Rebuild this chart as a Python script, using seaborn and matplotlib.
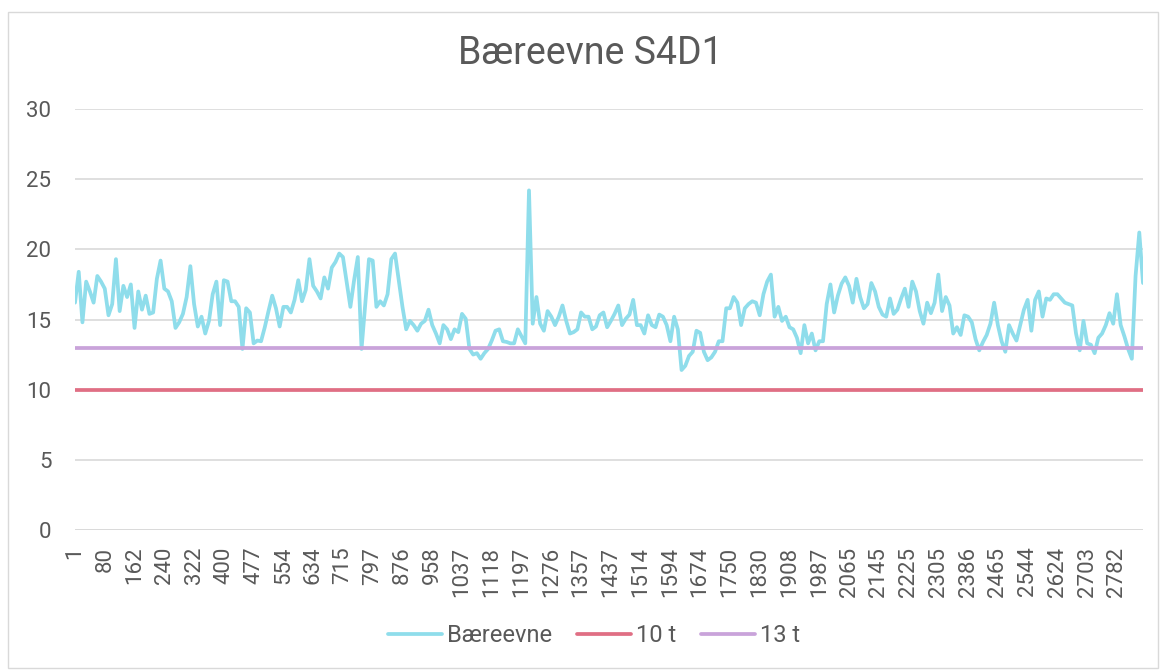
import numpy as np
import pandas as pd
import matplotlib.pyplot as plt
import matplotlib.patches as mpatches
import seaborn as sns

# category labels shown on the x axis (every 8th category)
x_labels = ["1", "80", "162", "240", "322", "400", "477", "554", "634", "715",
            "797", "876", "958", "1037", "1118", "1197", "1276", "1357", "1437",
            "1514", "1594", "1674", "1750", "1830", "1908", "1987", "2065",
            "2145", "2225", "2305", "2386", "2465", "2544", "2624", "2703", "2782"]
LABEL_STEP = 8

# Bæreevne
baereevne = [
    16.2, 18.4, 14.8, 17.7, 17.0, 16.2, 18.1, 17.7, 17.2, 15.3, 16.1, 19.3, 15.6,
    17.4, 16.6, 17.5, 14.4, 17.0, 15.7, 16.7, 15.4, 15.5, 17.9, 19.2, 17.2, 17.0,
    16.3, 14.4, 14.8, 15.4, 16.6, 18.8, 16.1, 14.5, 15.2, 14.0, 14.9, 16.8, 17.7,
    14.6, 17.8, 17.7, 16.3, 16.3, 15.9, 12.9,
    15.8, 15.5, 13.3, 13.5, 13.45, 14.45, 15.6, 16.7, 15.8, 14.5, 15.9, 15.9, 15.5,
    16.4, 17.8, 16.3, 17.1, 19.3, 17.4, 17.0, 16.5, 18.0, 17.2, 18.7, 19.1, 19.7,
    19.45, 17.7, 15.9, 17.8, 19.45, 12.9, 16.1, 19.3, 19.2, 15.9, 16.3, 16.0, 16.8,
    19.3, 19.7, 17.8, 15.9, 14.3, 14.9, 14.6, 14.2, 14.7, 14.9, 15.7,
    14.6, 14.0, 13.3, 14.6, 14.3, 13.6, 14.3, 14.1, 15.4, 15.05, 12.9, 12.5, 12.6,
    12.2, 12.6, 12.9, 13.5, 14.2, 14.3, 13.45, 13.4, 13.3, 13.3, 14.3, 13.8, 13.3,
    24.2, 14.7, 16.6, 14.7, 14.2, 15.6, 15.2, 14.6, 15.2, 16.0, 14.9, 14.0, 14.1,
    14.3, 15.5, 15.2, 15.2, 14.3, 14.5, 15.3, 15.5, 14.45,
    14.9, 15.4, 16.0, 14.6, 15.05, 15.35, 16.4, 14.6, 14.6, 14.0, 15.3, 14.6, 14.45,
    15.35, 15.2, 14.6, 13.45, 15.2, 14.3, 11.4, 11.7, 12.4, 12.7, 14.2, 14.05, 12.7,
    12.1, 12.3, 12.7, 13.45, 13.45, 15.8, 15.8, 16.6, 16.2, 14.6, 15.8, 16.1, 16.3,
    16.2, 15.3, 16.8, 17.7, 18.2, 15.2, 15.9, 14.9, 15.2, 14.45,
    14.3, 13.7, 12.6, 14.6, 13.3, 14.0, 12.8, 13.45, 13.45, 16.1, 17.5, 15.5, 16.7,
    17.55, 18.0, 17.4, 16.2, 17.9, 16.6, 15.8, 16.1, 17.6, 17.0, 15.9, 15.35, 15.2,
    16.5, 15.4, 15.7, 16.5, 17.2, 15.9, 17.7, 17.0, 15.6, 14.7, 16.2, 15.45, 16.2,
    18.2, 15.6, 16.6, 16.0, 14.0, 14.45, 13.9, 15.3, 15.2,
    14.8, 13.6, 12.8, 13.4, 13.9, 14.7, 16.2, 14.6, 13.45, 12.7, 14.6, 14.0, 13.5,
    14.6, 15.7, 16.4, 14.2, 16.4, 17.0, 15.2, 16.5, 16.4, 16.8, 16.8, 16.5, 16.2,
    16.1, 16.0, 14.0, 12.8, 14.9, 13.3, 13.2, 12.6, 13.7, 14.0, 14.6, 15.45, 14.7,
    16.8, 14.6, 13.8, 12.9, 12.2, 18.1, 21.2, 17.6,
]
limit_10 = 10   # 10 t
limit_13 = 13   # 13 t

series_names = ["Bæreevne", "10 t", "13 t"]
colors = ["#8FDDEB", "#E06F84", "#C9A3DA"]

n = len(baereevne)
df = pd.DataFrame({
    "pos": np.tile(np.arange(n), 3),
    "value": baereevne + [limit_10] * n + [limit_13] * n,
    "serie": np.repeat(series_names, n),
})

sns.set_theme(style="white")
plt.rcParams["font.family"] = ["Roboto", "DejaVu Sans"]
TXT = "#595959"

fig = plt.figure(figsize=(11.62, 6.70), dpi=100)
ax = fig.add_axes([75 / 1162, 1 - 530 / 670, 1068 / 1162, 421 / 670])

sns.lineplot(data=df, x="pos", y="value", hue="serie", hue_order=series_names,
             palette=colors, linewidth=2.7, ax=ax, legend=True)

ax.set_xlim(0, n - 1)
ax.set_ylim(0, 30)
ax.set_yticks(range(0, 31, 5))
ax.yaxis.grid(True, color="#D9D9D9", lw=1.2)
ax.set_axisbelow(True)
for s in ax.spines.values():
    s.set_visible(False)
ax.axhline(0, color="#D9D9D9", lw=1.2, zorder=0)

ticks = list(range(0, n, LABEL_STEP))[:len(x_labels)]
ax.set_xticks(ticks)
ax.set_xticklabels(x_labels[:len(ticks)], rotation=90)
ax.tick_params(axis="both", length=0, labelsize=16, labelcolor=TXT)
ax.tick_params(axis="x", pad=12)
ax.tick_params(axis="y", pad=17)
ax.set_xlabel("")
ax.set_ylabel("")

ax.get_legend().remove()
h, l = ax.get_legend_handles_labels()
fig.legend(h, l, loc="center", bbox_to_anchor=(594 / 1162, 1 - 636 / 670), ncol=3,
           frameon=False, prop={"size": 17}, labelcolor=TXT, handlelength=2.3,
           handletextpad=0.2, columnspacing=1.05)

fig.text(590 / 1162, 1 - 53 / 670, "Bæreevne S4D1", ha="center", va="center",
         fontsize=27, color=TXT)

fig.patches.append(mpatches.Rectangle((8 / 1162, 2 / 670), 1150 / 1162, 656 / 670,
                                      transform=fig.transFigure, fill=False,
                                      ec="#D9D9D9", lw=1))

fig.savefig("out.png", dpi=100)
